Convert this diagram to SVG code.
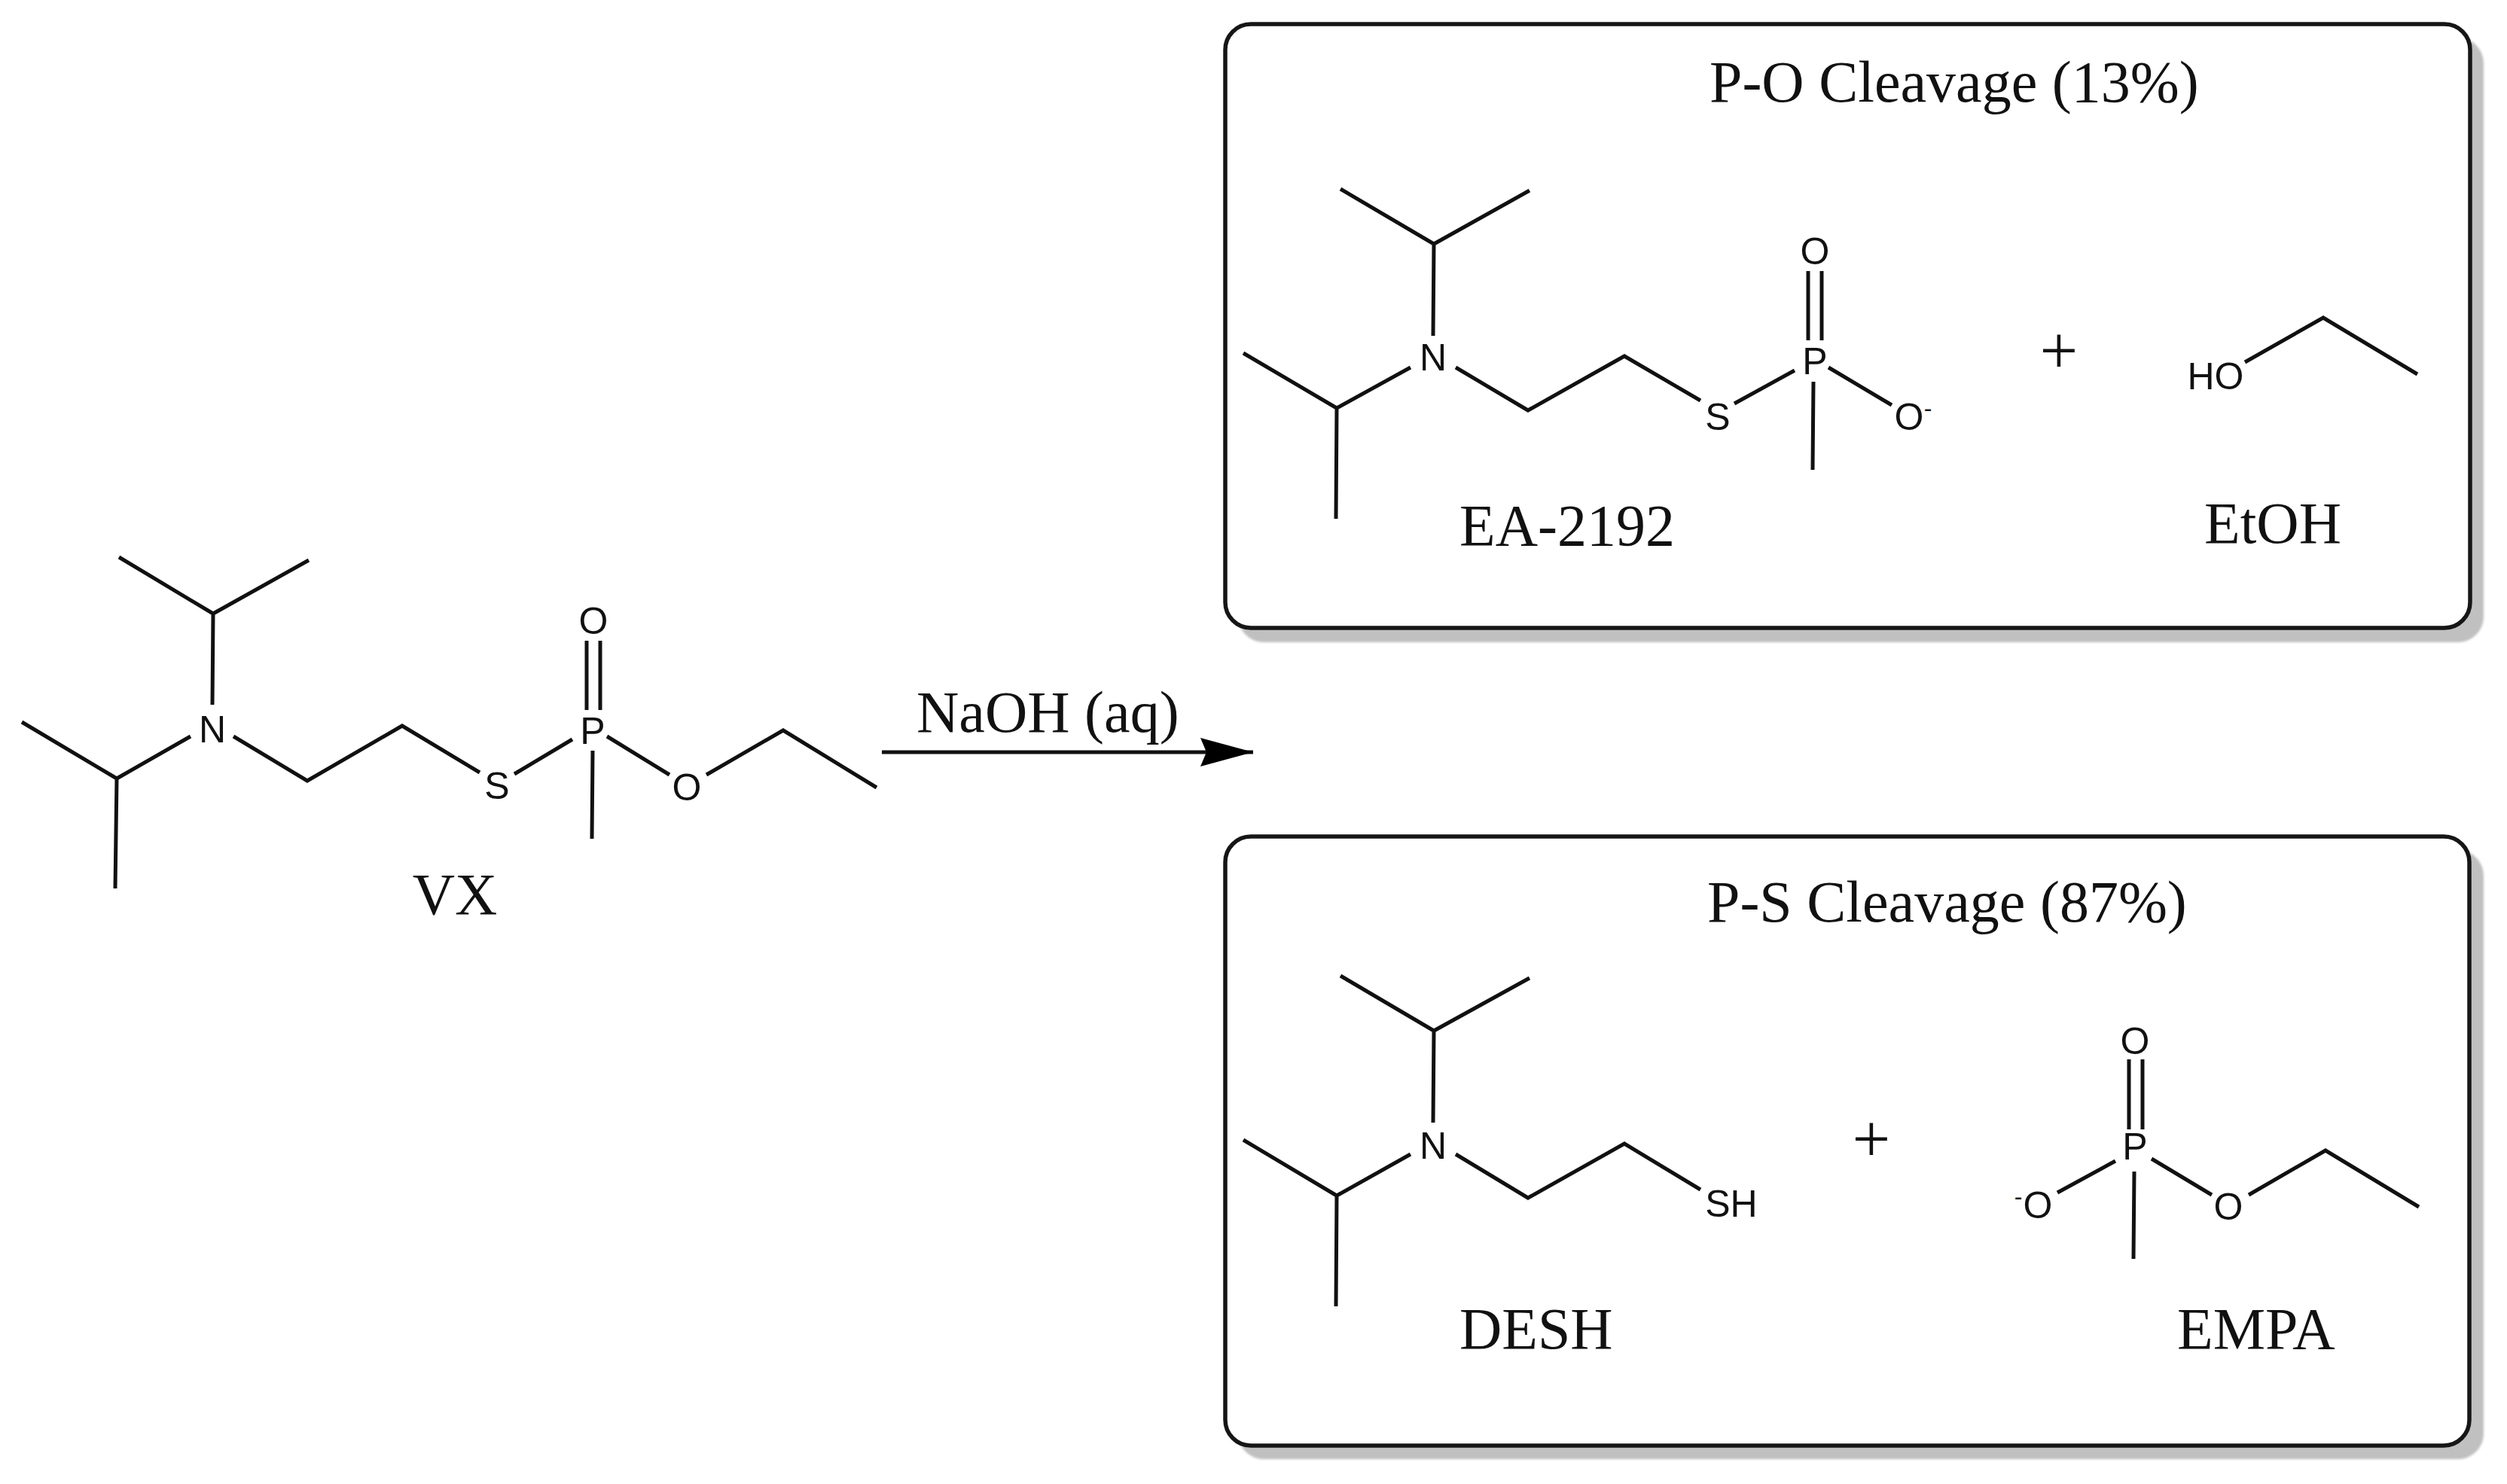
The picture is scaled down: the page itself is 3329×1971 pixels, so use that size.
<svg xmlns="http://www.w3.org/2000/svg" width="3329" height="1971" viewBox="0 0 3329 1971">
<defs>
<style>
.b{fill:none;stroke:#111;stroke-width:5;stroke-linecap:butt;stroke-linejoin:miter}
.a{font-family:"Liberation Sans",Arial,sans-serif;font-size:50px;fill:#111;text-anchor:middle}
.s{font-family:"Liberation Sans",Arial,sans-serif;font-size:32px;fill:#111;text-anchor:middle}
.t{font-family:"Liberation Serif","Times New Roman",serif;font-size:78px;fill:#111}
.p{font-size:90px;text-anchor:middle}
.box{fill:#fff;stroke:#161616;stroke-width:5.5}
.sh{fill:#c0c0c0;filter:url(#blur)}
</style>
<filter id="blur" x="-2%" y="-4%" width="104%" height="108%"><feGaussianBlur stdDeviation="1.5"/></filter>
<marker id="head" markerUnits="userSpaceOnUse" markerWidth="72" markerHeight="42" refX="70" refY="20" orient="auto"><path d="M0,1L70,20L0,39L8,20Z" fill="#000"/></marker>
</defs>
<rect width="3329" height="1971" fill="#fff"/>
<g id="box-po">
<rect class="sh" x="1644" y="50" width="1654" height="803" rx="34"/>
<rect class="box" x="1627" y="32" width="1653" height="802" rx="34"/>
<text class="t" x="2270" y="135">P-O Cleavage (13%)</text>
</g>
<g id="box-ps">
<rect class="sh" x="1644" y="1129" width="1654" height="809" rx="34"/>
<rect class="box" x="1627" y="1111" width="1652" height="809" rx="34"/>
<text class="t" x="2267" y="1224">P-S Cleavage (87%)</text>
</g>
<g id="vx">
<path class="b" d="M158,740L283,815L410,744M283,815L282,936M29,959L155,1034L253,978M155,1034L153,1180M310,978L408,1037L534,964L637,1026M683,1028L760,982M779,851V943M797,851V943M787,997L786,1114M806,978L889,1029M938,1029L1040,970L1164,1046"/>
<text class="a" x="282" y="986">N</text>
<text class="a" x="660" y="1061">S</text>
<text class="a" x="787" y="988">P</text>
<text class="a" x="788" y="842">O</text>
<text class="a" x="912" y="1063">O</text>
<text class="t" x="604" y="1214" text-anchor="middle">VX</text>
</g>
<g id="ea2192">
<path class="b" d="M1780,251L1904,324L2031,253M1904,324L1903,446M1651,469L1775,542L1873,488M1775,542L1774,689M1933,488L2029,545L2157,473L2258,532M2303,536L2383,492M2401,360V452M2419,360V452M2408,507L2407,624M2428,488L2512,538"/>
<text class="a" x="1903" y="492">N</text>
<text class="a" x="2281" y="571">S</text>
<text class="a" x="2410" y="497">P</text>
<text class="a" x="2410" y="351">O</text>
<text class="a" x="2535" y="571">O</text>
<text class="s" x="2560" y="553">-</text>
<text class="t" x="1938" y="724">EA-2192</text>
</g>
<g id="plus-1"><text class="t p" x="2734" y="496">+</text></g>
<g id="etoh">
<path class="b" d="M2981,481L3085,422L3210,497"/>
<text class="a" x="2942" y="517">HO</text>
<text class="t" x="2927" y="721">EtOH</text>
</g>
<g id="desh">
<path class="b" d="M1780,1296L1904,1369L2031,1299M1904,1369L1903,1491M1651,1514L1775,1588L1873,1533M1775,1588L1774,1735M1933,1533L2029,1591L2157,1519L2258,1580"/>
<text class="a" x="1903" y="1539">N</text>
<text class="a" x="2299" y="1616">SH</text>
<text class="t" x="1938" y="1791">DESH</text>
</g>
<g id="plus-2"><text class="t p" x="2485" y="1543">+</text></g>
<g id="empa">
<path class="b" d="M2827,1407V1500M2845,1407V1500M2834,1556L2833,1672M2809,1542L2732,1584M2857,1539L2937,1587M2986,1587L3088,1528L3212,1603"/>
<text class="a" x="2835" y="1540">P</text>
<text class="a" x="2835" y="1400">O</text>
<text class="a" x="2706" y="1618">O</text>
<text class="s" x="2680" y="1600">-</text>
<text class="a" x="2959" y="1620">O</text>
<text class="t" x="2891" y="1791">EMPA</text>
</g>
<g id="connectors">
<path d="M1171,999H1664" fill="none" stroke="#111" stroke-width="5" marker-end="url(#head)"/>
<text class="t" x="1217" y="972">NaOH (aq)</text>
</g>
</svg>
